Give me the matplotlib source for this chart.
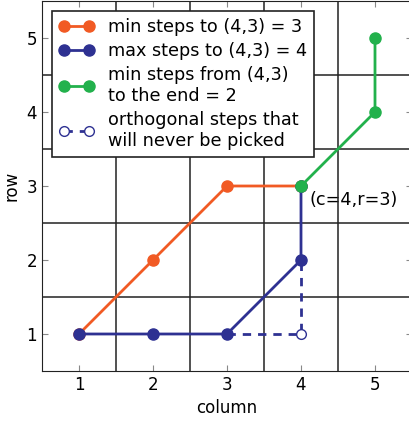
import matplotlib
matplotlib.use("Agg")
import matplotlib.pyplot as plt

orange_x = [1, 2, 3, 4]
orange_y = [1, 2, 3, 3]
blue_x = [1, 2, 3, 4, 4]
blue_y = [1, 1, 1, 2, 3]
green_x = [4, 5, 5]
green_y = [3, 4, 5]
ortho_x = [3, 4, 4]
ortho_y = [1, 1, 2]
ticks = [1, 2, 3, 4, 5]
grid_pos = [1.5, 2.5, 3.5, 4.5]

c_orange = "#F15A24"
c_blue = "#2E3192"
c_green = "#22B14C"

plt.rcParams['font.family'] = 'DejaVu Sans'
fig = plt.figure(figsize=(4.09, 4.21), dpi=100)
W, H = 409, 421
ax = fig.add_axes([42 / W, (421 - 371) / H, (412 - 42) / W, (371 - 1) / H])

for g in grid_pos:
    ax.axvline(g, color="#222222", lw=1.1, zorder=1)
    ax.axhline(g, color="#222222", lw=1.1, zorder=1)

ax.plot(ortho_x, ortho_y, ls="--", color=c_blue, lw=2, marker="o", ms=7,
        mfc="white", mec=c_blue, dashes=(3, 2.5), zorder=2,
        label="orthogonal steps that\nwill never be picked")
l1, = ax.plot(orange_x, orange_y, color=c_orange, lw=2, marker="o", ms=8,
              mec=c_orange, zorder=3, label="min steps to (4,3) = 3")
l2, = ax.plot(blue_x, blue_y, color=c_blue, lw=2, marker="o", ms=8,
              mec=c_blue, zorder=3, label="max steps to (4,3) = 4")
l3, = ax.plot(green_x, green_y, color=c_green, lw=2, marker="o", ms=8,
              mec=c_green, zorder=4, label="min steps from (4,3)\nto the end = 2")

ax.text(4.11, 2.81, "(c=4,r=3)", fontsize=12.7, va="center", ha="left", zorder=0.5)

ax.set_xlim(0.5, 5.5)
ax.set_ylim(0.5, 5.5)
ax.set_xticks(ticks)
ax.set_yticks(ticks)
ax.tick_params(direction="in", top=True, right=True, labelsize=12, length=4,
               color="#888888")
ax.set_xlabel("column", fontsize=12)
ax.set_ylabel("row", fontsize=12)
for s in ax.spines.values():
    s.set_color("#222222")

handles, labels = ax.get_legend_handles_labels()
order = [1, 2, 3, 0]
leg = ax.legend([handles[i] for i in order], [labels[i] for i in order],
                loc="upper left", fontsize=12.7, numpoints=2, fancybox=False,
                framealpha=1, edgecolor="#222222", handlelength=2.0,
                borderaxespad=0.55, labelspacing=0.35, handletextpad=0.8,
                borderpad=0.4)
leg.get_frame().set_linewidth(1.2)

fig.savefig("out.png", dpi=100)
